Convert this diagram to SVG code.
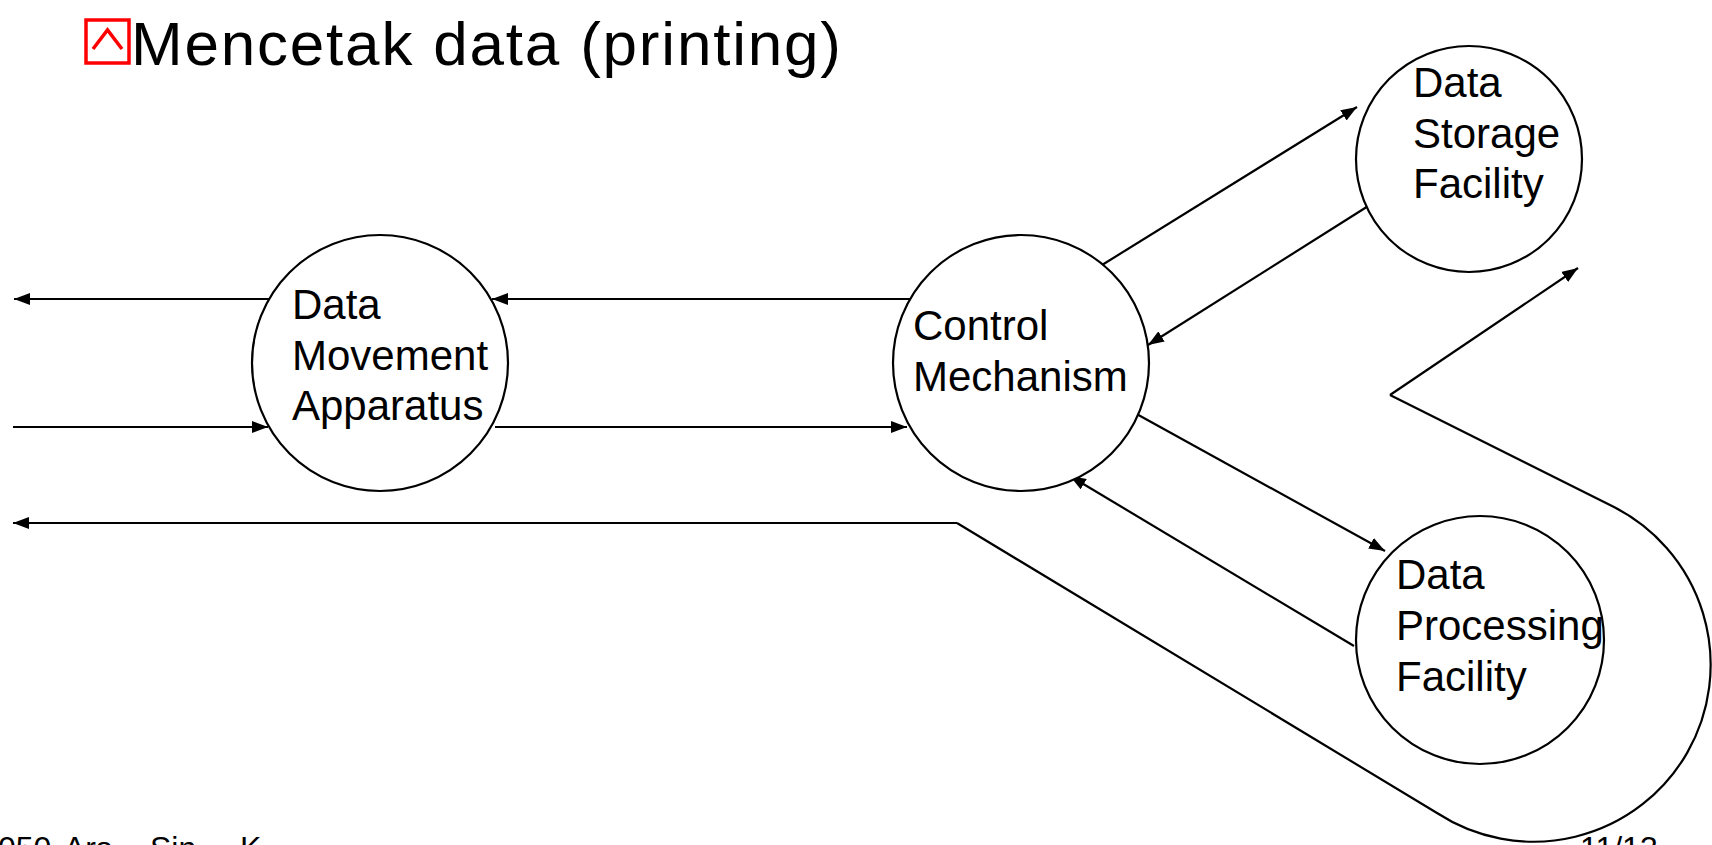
<svg xmlns="http://www.w3.org/2000/svg" width="1712" height="845" viewBox="0 0 1712 845">
<style>
  .node circle { fill: #ffffff; stroke: #000000; stroke-width: 2.2; }
  .node text { font-family: "Liberation Sans", Arial, sans-serif; font-size: 42px; fill: #000000; }
  .conn line, .conn path { stroke: #000000; stroke-width: 2.2; fill: none; }
  .arr { marker-end: url(#ah); }
  .title { font-family: "Liberation Sans", Arial, sans-serif; font-size: 62px; fill: #000000; }
  .foot { font-family: "Liberation Sans", Arial, sans-serif; font-size: 32px; fill: #000000; }
</style>
<defs>
  <marker id="ah" viewBox="0 0 16 12" refX="16" refY="6" markerWidth="16" markerHeight="12" markerUnits="userSpaceOnUse" orient="auto">
    <path d="M0,0 L16,6 L0,12 z" fill="#000000"/>
  </marker>
</defs>
<rect width="1712" height="845" fill="#ffffff"/>

<g id="title">
  <rect x="86" y="20" width="43" height="43" fill="none" stroke="#ff0000" stroke-width="3.5"/>
  <polyline points="93,49 107.5,30 122,49" fill="none" stroke="#ff0000" stroke-width="3.5"/>
  <text class="title" x="131" y="65" textLength="710" lengthAdjust="spacing">Mencetak data (printing)</text>
</g>

<g id="connectors" class="conn">
  <line class="arr" x1="269" y1="299" x2="14" y2="299"/>
  <line class="arr" x1="13" y1="427" x2="268" y2="427"/>
  <line class="arr" x1="910" y1="299" x2="492" y2="299"/>
  <line class="arr" x1="495" y1="427" x2="907" y2="427"/>
  <line class="arr" x1="1102" y1="265" x2="1357" y2="107"/>
  <line class="arr" x1="1373" y1="203" x2="1148" y2="345"/>
  <line class="arr" x1="1133" y1="412" x2="1385" y2="551"/>
  <line class="arr" x1="1354" y1="646" x2="1070" y2="476"/>
  <line class="arr" x1="957" y1="523" x2="13" y2="523"/>
  <path d="M957,523 L1437,813 A177,177 0 1 0 1612,506 L1390,395"/>
  <line class="arr" x1="1390" y1="395" x2="1578" y2="268"/>
</g>

<g id="data-movement-apparatus" class="node">
  <circle cx="380" cy="363" r="128"/>
  <text x="292" y="319">Data</text>
  <text x="292" y="370">Movement</text>
  <text x="292" y="420">Apparatus</text>
</g>

<g id="control-mechanism" class="node">
  <circle cx="1021" cy="363" r="128"/>
  <text x="913" y="340">Control</text>
  <text x="913" y="391">Mechanism</text>
</g>

<g id="data-storage-facility" class="node">
  <circle cx="1469" cy="159" r="113"/>
  <text x="1413" y="97">Data</text>
  <text x="1413" y="148">Storage</text>
  <text x="1413" y="198">Facility</text>
</g>

<g id="data-processing-facility" class="node">
  <circle cx="1480" cy="640" r="124"/>
  <text x="1396" y="589">Data</text>
  <text x="1396" y="640">Processing</text>
  <text x="1396" y="691">Facility</text>
</g>

<g id="footer">
  <text class="foot" y="859"><tspan x="-2">050</tspan><tspan x="64">Ars</tspan><tspan x="150">Sin</tspan><tspan x="240">K</tspan></text>
  <text class="foot" x="1580" y="859">11/13</text>
</g>
</svg>
